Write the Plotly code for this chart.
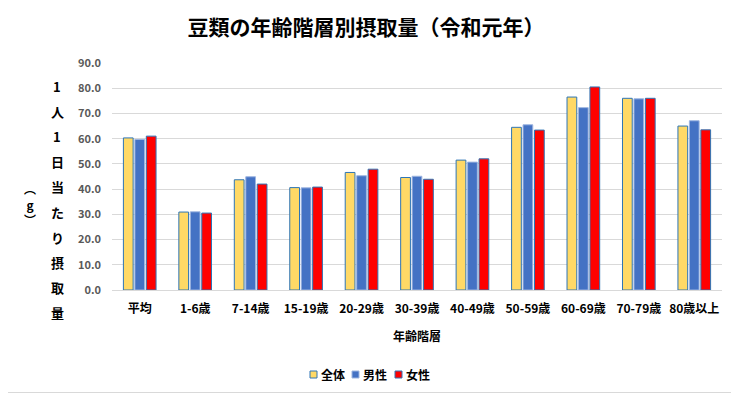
import plotly.graph_objects as go

categories = ["平均", "1-6歳", "7-14歳", "15-19歳", "20-29歳", "30-39歳",
              "40-49歳", "50-59歳", "60-69歳", "70-79歳", "80歳以上"]
total = [60.3, 30.9, 43.7, 40.6, 46.6, 44.6, 51.5, 64.5, 76.5, 76.0, 65.0]
male = [59.7, 31.0, 44.9, 40.5, 45.3, 45.1, 50.7, 65.5, 72.3, 75.8, 67.1]
female = [61.0, 30.5, 42.0, 40.8, 47.9, 43.9, 52.0, 63.4, 80.5, 76.0, 63.5]
series_names = ["全体", "男性", "女性"]
y_ticks = [0, 10, 20, 30, 40, 50, 60, 70, 80, 90]

FONT = "Noto Sans CJK JP"
OFF = 8  # page body margin offset
W, H = 739 - OFF, 394 - OFF
# plot area in reference pixel coordinates: x 112..722, y 63..290
ML, MR, MT, MB = 112 - OFF, 17, 63 - OFF, 104
PW, PH = W - ML - MR, H - MT - MB

def px_x(p):
    return (p - 112) / PW

def px_y(p):
    return (290 - p) / PH

fills = ["#FFD966", "#4472C4", "#FF0000"]
outlines = ["#2E75B6", "#9DB5E0", "#2E75B6"]
values = [total, male, female]

fig = go.Figure()
for name, vals, fc, lc in zip(series_names, values, fills, outlines):
    fig.add_trace(go.Bar(name=name, x=categories, y=vals, showlegend=False,
                         marker=dict(color=fc, line=dict(color=lc, width=1))))

annotations = []
shapes = []
col1 = ["1", "人", "1", "日", "当", "た", "り", "摂", "取", "量"]
for i, ch in enumerate(col1):
    annotations.append(dict(text="<b>%s</b>" % ch, x=px_x(57), y=px_y(86 + i * 25.2),
                            xref="paper", yref="paper", showarrow=False,
                            xanchor="center", yanchor="middle",
                            font=dict(family=FONT, size=13, color="#000000")))
annotations.append(dict(text="<b>︵<br>g<br>︶</b>", x=px_x(30), y=px_y(204),
                        xref="paper", yref="paper", showarrow=False,
                        xanchor="center", yanchor="middle",
                        font=dict(family=FONT, size=12, color="#000000")))

# legend (manual, compact like the reference)
leg_x = [310, 352, 395]
for name, fc, lc, lx in zip(series_names, fills, outlines, leg_x):
    shapes.append(dict(type="rect", xref="paper", yref="paper",
                       x0=px_x(lx), x1=px_x(lx + 7), y0=px_y(378), y1=px_y(371),
                       fillcolor=fc, line=dict(color=lc, width=1)))
    annotations.append(dict(text="<b>%s</b>" % name, x=px_x(lx + 9), y=px_y(374.5),
                            xref="paper", yref="paper", showarrow=False,
                            xanchor="left", yanchor="middle",
                            font=dict(family=FONT, size=12, color="#000000")))

annotations.append(dict(text="<b>年齢階層</b>", x=0.5, y=px_y(335),
                        xref="paper", yref="paper", showarrow=False,
                        xanchor="center", yanchor="middle",
                        font=dict(family=FONT, size=12, color="#000000")))

shapes.append(dict(type="rect", xref="paper", yref="paper",
                   x0=px_x(0.5), x1=px_x(737.5), y0=px_y(392.5), y1=px_y(0.5),
                   line=dict(color="#D9D9D9", width=1), layer="below"))

fig.update_layout(
    width=W, height=H,
    margin=dict(l=ML, r=MR, t=MT, b=MB, autoexpand=False),
    paper_bgcolor="white", plot_bgcolor="white",
    barmode="group", bargap=0.38, bargroupgap=0.15,
    title=dict(text="<b>豆類の年齢階層別摂取量（令和元年）</b>", x=(366 - OFF) / W, xanchor="center",
               xref="container", yref="container",
               y=1 - (28 - OFF) / H, yanchor="middle",
               font=dict(family=FONT, size=21, color="#000000")),
    font=dict(family=FONT),
    showlegend=False,
    xaxis=dict(automargin=False,
               tickfont=dict(family=FONT, size=12, color="#000000", weight="bold"),
               ticklabelstandoff=8,
               showline=True, linecolor="#D9D9D9", linewidth=1, ticks=""),
    yaxis=dict(automargin=False, range=[0, 90], tickvals=y_ticks, tickformat=".1f",
               tickfont=dict(family=FONT, size=11, color="#595959", weight="bold"),
               showgrid=True, gridcolor="#D9D9D9", gridwidth=1, zeroline=False,
               showline=False, ticks="", ticklabelstandoff=10),
    annotations=annotations,
    shapes=shapes,
)

fig.write_html("out.html")
